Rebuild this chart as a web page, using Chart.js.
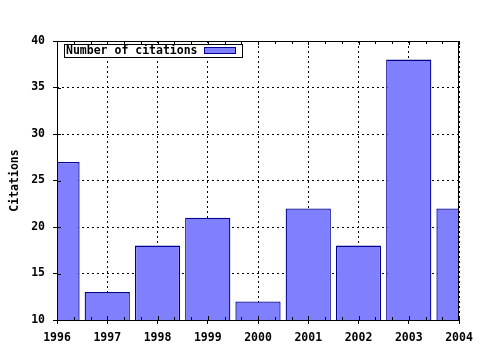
<!DOCTYPE html>
<html>
<head>
<meta charset="utf-8">
<script src="https://cdn.jsdelivr.net/npm/chart.js@4/dist/chart.umd.min.js"></script>
<style>
  html, body { margin: 0; padding: 0; background: #ffffff; }
  #wrap { width: 480px; height: 350px; position: relative; }
</style>
</head>
<body>
<div id="wrap"><canvas id="c" width="480" height="350"></canvas></div>
<script>
const years = ['1996', '1997', '1998', '1999', '2000', '2001', '2002', '2003', '2004'];
const citations = [27, 13, 18, 21, 12, 22, 18, 38, 22];
const seriesLabel = 'Number of citations';
const yAxisTitle = 'Citations';
const yMin = 10;
const yMax = 40;
const yStep = 5;

const FONT = "'DejaVu Sans Mono', 'Liberation Mono', monospace";

const framePlugin = {
  id: 'frame',
  afterDatasetsDraw(chart) {
    const ctx = chart.ctx;
    const a = chart.chartArea;
    const xs = chart.scales.x;
    const ys = chart.scales.y;
    ctx.save();
    ctx.setLineDash([]);
    ctx.strokeStyle = '#000';
    ctx.lineWidth = 1;
    // frame
    ctx.strokeRect(a.left + 0.5, a.top + 0.5, a.right - a.left - 1, a.bottom - a.top);
    // x minor / major ticks
    ctx.beginPath();
    for (let i = 0; i < years.length; i++) {
      const px = Math.round(xs.getPixelForTick(i)) + 0.5;
      ctx.moveTo(px, a.top); ctx.lineTo(px, a.top + 4);
      ctx.moveTo(px, a.bottom); ctx.lineTo(px, a.bottom - 4);
      if (i < years.length - 1) {
        const nx = xs.getPixelForTick(i + 1);
        for (let k = 1; k <= 2; k++) {
          const mx = Math.round(xs.getPixelForTick(i) + k * (nx - xs.getPixelForTick(i)) / 3) + 0.5;
          ctx.moveTo(mx, a.top); ctx.lineTo(mx, a.top + 3);
          ctx.moveTo(mx, a.bottom); ctx.lineTo(mx, a.bottom - 3);
        }
      }
    }
    // y inner ticks
    ys.ticks.forEach((t, i) => {
      const py = Math.round(ys.getPixelForTick(i)) + 0.5;
      ctx.moveTo(a.left, py); ctx.lineTo(a.left + 4, py);
    });
    ctx.stroke();

    // legend box
    const ds = chart.data.datasets[0];
    ctx.font = 'bold 11.5px ' + FONT;
    const bx = a.left + 7.5, by = a.top + 3.5, bw = 178, bh = 13;
    ctx.fillStyle = '#fff';
    ctx.fillRect(bx, by, bw, bh);
    ctx.strokeRect(bx, by, bw, bh);
    ctx.fillStyle = '#000';
    ctx.textAlign = 'left';
    ctx.textBaseline = 'middle';
    ctx.fillText(ds.label, bx + 1.5, by + bh / 2 + 0.5);
    ctx.fillStyle = ds.backgroundColor;
    ctx.fillRect(bx + 140, by + 3, 31, 6);
    ctx.strokeStyle = ds.borderColor;
    ctx.strokeRect(bx + 140, by + 3, 31, 6);
    ctx.restore();
  }
};

new Chart(document.getElementById('c'), {
  type: 'bar',
  data: {
    labels: years,
    datasets: [{
      label: seriesLabel,
      data: citations,
      backgroundColor: '#8080ff',
      borderColor: '#000090',
      borderWidth: 1.3,
      barPercentage: 0.9,
      categoryPercentage: 1.0,
      clip: 0
    }]
  },
  options: {
    responsive: false,
    animation: false,
    devicePixelRatio: 1,
    layout: { padding: { top: 41, right: 21, left: 0, bottom: 0 } },
    plugins: {
      legend: { display: false },
      tooltip: { enabled: false }
    },
    scales: {
      x: {
        type: 'category',
        offset: false,
        grid: {
          offset: false,
          color: '#000',
          lineWidth: 1,
          drawTicks: true,
          tickLength: 4,
          tickColor: '#000'
        },
        border: { display: false, dash: [2, 3] },
        ticks: {
          color: '#000',
          font: { family: FONT, weight: 'bold', size: 11.5 },
          padding: 7,
          autoSkip: false,
          maxRotation: 0
        },
        afterFit(scale) { scale.height = 30; }
      },
      y: {
        min: yMin,
        max: yMax,
        grid: {
          color: '#000',
          lineWidth: 1,
          drawTicks: true,
          tickLength: 4,
          tickColor: '#000'
        },
        border: { display: false, dash: [2, 3] },
        ticks: {
          stepSize: yStep,
          color: '#000',
          font: { family: FONT, weight: 'bold', size: 11.5 },
          padding: 8
        },
        title: {
          display: true,
          text: yAxisTitle,
          color: '#000',
          font: { family: FONT, weight: 'bold', size: 11.5 },
          padding: { top: 8, bottom: 0 }
        },
        afterFit(scale) { scale.width = 57; }
      }
    }
  },
  plugins: [framePlugin]
});
</script>
</body>
</html>
